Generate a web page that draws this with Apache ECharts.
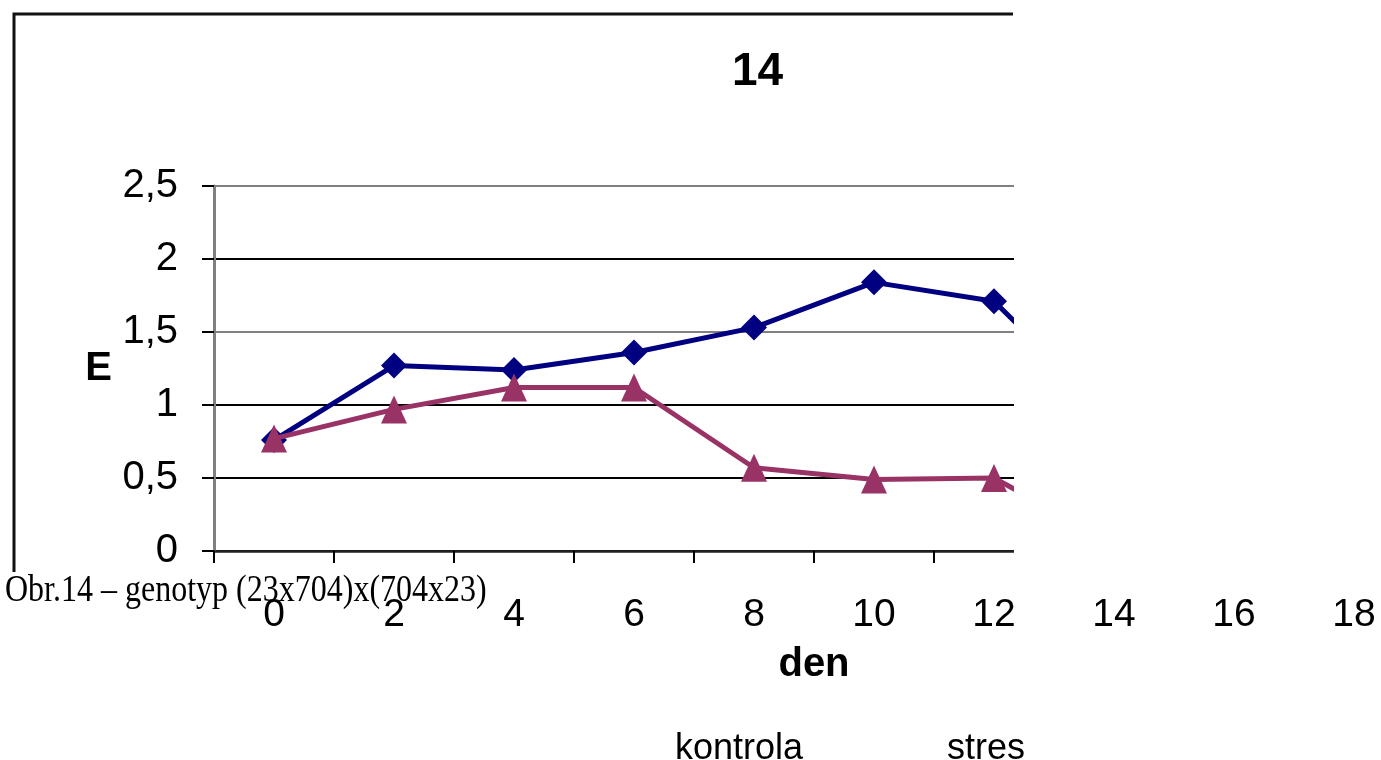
<!DOCTYPE html>
<html>
<head>
<meta charset="utf-8">
<title>14</title>
<script src="https://cdn.jsdelivr.net/npm/echarts@6/dist/echarts.min.js"></script>
<style>
  html, body { margin: 0; padding: 0; background: #fff; overflow: hidden; }
  /* the canvas runs a little past the window so the last category keeps its full width */
  #chart { width: 1420px; height: 760px; }
</style>
</head>
<body>
<div id="chart"></div>
<script>
// Day of measurement (category axis labels)
const days = ['0', '2', '4', '6', '8', '10', '12', '14', '16', '18'];
// E values per day
const kontrola = [0.76, 1.27, 1.24, 1.36, 1.53, 1.84, 1.71, 0.90, null, null];
const stres = [0.77, 0.97, 1.12, 1.12, 0.57, 0.49, 0.50, 0.05, null, null];
const seriesNames = ['kontrola', 'stres'];
const yTicks = { min: 0, max: 2.5, step: 0.5 };

const chart = echarts.init(document.getElementById('chart'), null, { renderer: 'canvas' });

const sans = 'Liberation Sans, Arial, sans-serif';

chart.setOption({
  animation: false,
  backgroundColor: '#ffffff',
  title: {
    text: '14',
    left: 727,
    top: 44,
    textStyle: { fontFamily: sans, fontSize: 46, fontWeight: 'bold', color: '#000' }
  },
  legend: {
    data: seriesNames,
    left: 664,
    top: 726,
    itemWidth: 1,
    itemHeight: 1,
    itemGap: 138,
    icon: 'rect',
    itemStyle: { opacity: 0 },
    lineStyle: { opacity: 0 },
    textStyle: { fontFamily: sans, fontSize: 36, color: '#000' }
  },
  grid: { left: 214, top: 186, width: 1200, height: 365 },
  xAxis: {
    type: 'category',
    data: days,
    boundaryGap: true,
    name: 'den',
    nameLocation: 'middle',
    nameGap: 94,
    nameTextStyle: { fontFamily: sans, fontSize: 40, fontWeight: 'bold', color: '#000' },
    axisLine: { lineStyle: { color: '#222', width: 2.5 } },
    axisTick: { show: true, length: 12, lineStyle: { color: '#000', width: 2 } },
    axisLabel: { margin: 45, fontFamily: sans, fontSize: 39, color: '#000' },
    splitLine: { show: false }
  },
  yAxis: {
    type: 'value',
    min: yTicks.min,
    max: yTicks.max,
    interval: yTicks.step,
    name: 'E',
    nameLocation: 'middle',
    nameRotate: 0,
    nameGap: 102,
    nameTextStyle: { fontFamily: sans, fontSize: 40, fontWeight: 'bold', color: '#000', padding: [16, 0, 0, 0] },
    axisLine: { show: true, lineStyle: { color: '#808080', width: 3 } },
    axisTick: { show: true, length: 12, lineStyle: { color: '#000', width: 2 } },
    axisLabel: {
      margin: 36,
      fontFamily: sans,
      fontSize: 40,
      color: '#000',
      formatter: v => String(v).replace('.', ',')
    },
    splitLine: {
      show: true,
      lineStyle: { color: ['#000', '#000', '#000', '#808080', '#000', '#808080'], width: 2 }
    }
  },
  series: [
    {
      name: seriesNames[0],
      type: 'line',
      data: kontrola,
      color: '#000080',
      lineStyle: { color: '#000080', width: 5 },
      symbol: 'diamond',
      symbolSize: 26,
      itemStyle: { color: '#000080' },
      connectNulls: false,
      z: 3
    },
    {
      name: seriesNames[1],
      type: 'line',
      data: stres,
      color: '#993366',
      lineStyle: { color: '#993366', width: 5 },
      symbol: 'triangle',
      symbolSize: [26, 28],
      itemStyle: { color: '#993366' },
      connectNulls: false,
      z: 4
    }
  ],
  graphic: [
    // the chart frame ends at x = 1013; everything of the plot beyond it is hidden
    {
      type: 'rect',
      z: 100,
      shape: { x: 1014, y: 0, width: 420, height: 586 },
      style: { fill: '#ffffff' }
    },
    {
      type: 'polyline',
      z: 101,
      shape: { points: [[14, 572], [14, 14], [1013, 14]] },
      style: { stroke: '#111', lineWidth: 3, fill: null }
    },
    {
      type: 'text',
      z: 102,
      x: 5,
      y: 572,
      scaleY: 1.2,
      style: {
        text: 'Obr.14 – genotyp (23x704)x(704x23)',
        font: '32px "Liberation Serif", "Times New Roman", serif',
        fill: '#000',
        textVerticalAlign: 'top'
      }
    }
  ]
});
</script>
</body>
</html>
